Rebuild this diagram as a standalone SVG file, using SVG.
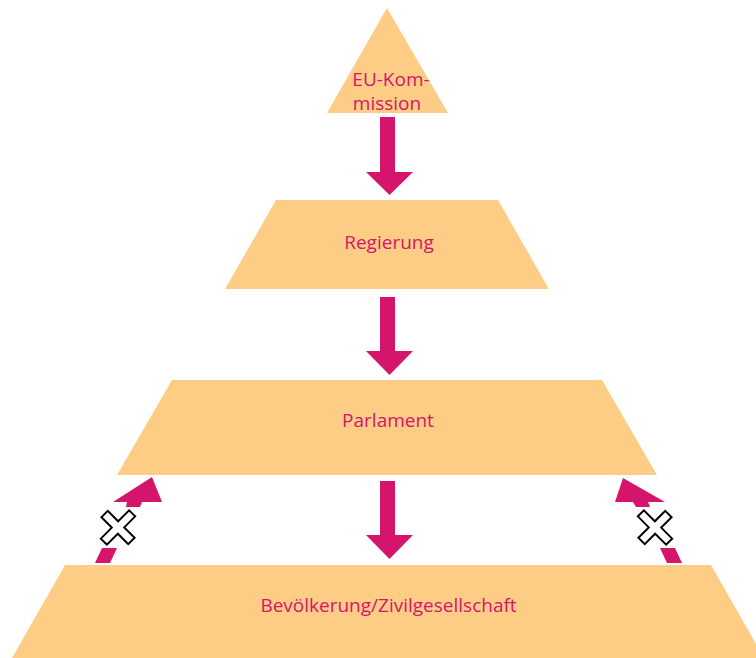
<svg xmlns="http://www.w3.org/2000/svg" width="756" height="658" viewBox="0 0 756 658">
<style>
.lvl{fill:#fdcd85}
.arr{fill:#d5146b}
.lbl{font-family:"Open Sans","Noto Sans",sans-serif;font-size:19px;fill:#d5146b;text-anchor:middle}
.x{fill:#fff;stroke:#000;stroke-width:2;stroke-linejoin:miter}
</style>
<defs>
<polygon id="cross" points="-4.5,-20 4.5,-20 4.5,-4.5 20,-4.5 20,4.5 4.5,4.5 4.5,20 -4.5,20 -4.5,4.5 -20,4.5 -20,-4.5 -4.5,-4.5"/>
</defs>
<rect width="756" height="658" fill="#fff"/>
<g id="eu-kommission">
<polygon class="lvl" points="387,8 448,113 327,113"/>
<text class="lbl" x="391" y="86">EU-Kom-</text>
<text class="lbl" x="387" y="110">mission</text>
</g>
<g id="regierung">
<polygon class="lvl" points="276,200 498,200 549,289 225,289"/>
<text class="lbl" x="389" y="249">Regierung</text>
</g>
<g id="parlament">
<polygon class="lvl" points="172,380 602,380 657,475 117,475"/>
<text class="lbl" x="388" y="427">Parlament</text>
</g>
<g id="bevoelkerung">
<polygon class="lvl" points="65,565 711,565 764,658 12,658"/>
<text class="lbl" x="388.5" y="612">Bevölkerung/Zivilgesellschaft</text>
</g>
<g id="connectors">
<polygon class="arr" points="380,117 395,117 395,172 413,172 389.5,195 366,172 380,172"/>
<polygon class="arr" points="380,297 395,297 395,351 413,351 389.5,375 366,351 380,351"/>
<polygon class="arr" points="380,481 395,481 395,535 413,535 389.5,559 366,535 380,535"/>
<polygon class="arr" points="152,477 162,502 142,502 140,507 126,507 127,502 113,502"/>
<polygon class="arr" points="102,548 117,548 110,563 95,563"/>
<use href="#cross" class="x" transform="translate(118,527.5) rotate(45) scale(0.95,1)"/>
<polygon class="arr" points="623,478 665,502 648,502 650,507 636,507 633,502 615,502"/>
<polygon class="arr" points="660,548 675,548 682,563 667,563"/>
<use href="#cross" class="x" transform="translate(655,527.5) rotate(45) scale(1,0.95)"/>
</g>
</svg>
